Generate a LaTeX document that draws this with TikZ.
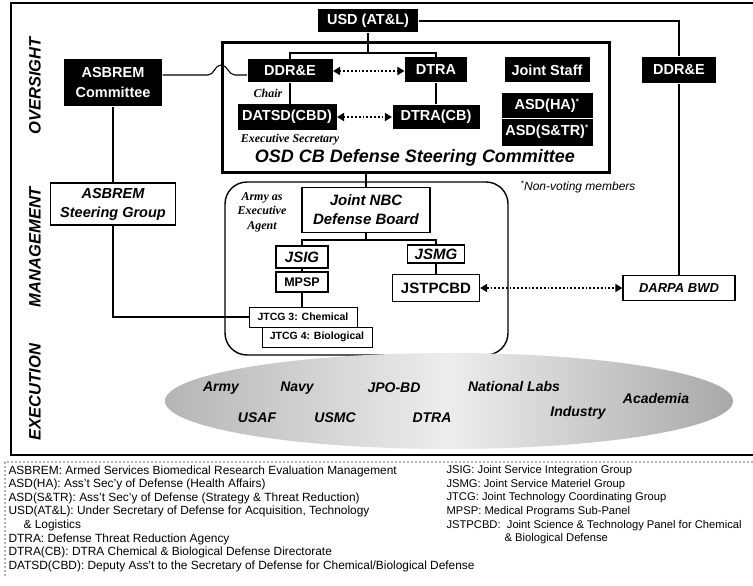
\documentclass[tikz,border=0pt]{standalone}
\usepackage{fontspec}
\setmainfont{Liberation Sans}
\newfontfamily\serifface{Liberation Serif}
\usepackage{tikz}
\usetikzlibrary{positioning,arrows.meta}

\newcommand\sz[2]{\fontsize{#1}{#2}\selectfont}

\begin{document}
\begin{tikzpicture}[x=1pt,y=-1pt,line width=1.1pt,
	blk/.style={fill=black,text=white,font=\sz{14.5}{20}\bfseries,inner sep=0pt,minimum height=25,align=center},
	wbox/.style={draw,line width=1.3pt,fill=white,inner sep=0pt,align=center},
	dotarrow/.style={dotted,line width=1.8pt,{Triangle[length=7pt,width=8pt]}-{Triangle[length=7pt,width=8pt]}},
	side/.style={rotate=90,font=\sz{16.5}{18}\bfseries\itshape},
	rem/.style={font=\serifface\sz{12}{14.5}\bfseries\itshape,align=center,inner sep=0pt},
	exe/.style={font=\sz{14}{16}\bfseries\itshape},
	legend/.style={anchor=north west,align=left,inner sep=0pt,font=\sz{11.9}{13.6}}]
	\path[use as bounding box,clip] (0,0) rectangle (753,586);
	\draw[line width=1.5pt] (760,3) -- (11,3) -- (11,455) -- (760,455);
	\node[side] (over) at (35,86) {OVERSIGHT};
	\node[side] (manage) at (35,247) {MANAGEMENT};
	\node[side] (execu) at (35,392) {EXECUTION};
	\node[blk,minimum width=100,minimum height=23] (usd) at (368,21) {USD (AT\&L)};
	\node[blk,minimum width=98,minimum height=47] (asbcom) at (113,83) {ASBREM\\Committee};
	\node[draw,line width=3pt,minimum width=387,minimum height=129,inner sep=0pt] (osd) at (415.5,107.5) {};
	\node[blk,minimum width=85,minimum height=23] (ddre) at (290,71) {DDR\&E};
	\node[blk,minimum width=62] (dtra) at (436,70) {DTRA};
	\node[blk,minimum width=99] (datsd) at (287,117) {DATSD(CBD)};
	\node[blk,minimum width=87,minimum height=24] (dtracb) at (436,117) {DTRA(CB)};
	\node[blk,minimum width=85] (jstaff) at (547,70) {Joint Staff};
	\node[blk,minimum width=91,minimum height=25] (asdha) at (547,105.5) {ASD(HA)\textsuperscript{\sz{8}{8}*}};
	\node[blk,minimum width=91,minimum height=27] (asdstr) at (547,132) {ASD(S\&TR)\textsuperscript{\sz{8}{8}*}};
	\draw[white,line width=0.6pt] (asdha.south west) -- (asdha.south east);
	\node[blk,minimum width=74,minimum height=26] (ddrer) at (679,70) {DDR\&E};
	\node[rem] (chair) at (268,93) {Chair};
	\node[rem] (execsec) at (290,140) {Executive Secretary};
	\node[font=\sz{18}{20}\bfseries\itshape] (osdname) at (415,158) {OSD CB Defense Steering Committee};
	\node[font=\sz{12}{14}\itshape] (nonvote) at (578,187) {\textsuperscript{*}Non-voting members};
	\node[draw,line width=1.4pt,rounded corners=22,minimum width=283,minimum height=173,inner sep=0pt] (mgmt) at (366.5,268.5) {};
	\node[wbox,font=\sz{14.5}{19}\bfseries\itshape,minimum width=125,minimum height=42] (asbsg) at (113,204) {ASBREM\\Steering Group};
	\node[wbox,font=\sz{15}{19}\bfseries\itshape,minimum width=128,minimum height=45,line width=1.6pt] (jnbc) at (366,210) {Joint NBC\\Defense Board};
	\node[rem] (army) at (262,212) {Army as\\Executive\\Agent};
	\node[wbox,font=\sz{15}{17}\bfseries\itshape,minimum width=52,minimum height=22] (jsig) at (302,257) {JSIG};
	\node[wbox,font=\sz{12.5}{14}\bfseries,minimum width=52,minimum height=20] (mpsp) at (302,282) {MPSP};
	\node[wbox,font=\sz{10.5}{12}\bfseries,minimum width=110,minimum height=20,line width=1pt] (jtcgb) at (317,337) {JTCG 4: Biological};
	\node[wbox,font=\sz{10.5}{12}\bfseries,minimum width=108,minimum height=20,line width=1pt] (jtcgc) at (303,317) {JTCG 3: Chemical};
	\node[wbox,font=\sz{15}{17}\bfseries\itshape,minimum width=57,minimum height=18] (jsmg) at (436,254) {JSMG};
	\node[wbox,font=\sz{15}{17}\bfseries,minimum width=87,minimum height=27] (jstp) at (436,288) {JSTPCBD};
	\node[wbox,font=\sz{13}{15}\bfseries\itshape,minimum width=112,minimum height=25] (darpa) at (679,288) {DARPA BWD};
	\coordinate (bartop) at (368,53);
	\coordinate (barmid) at (366,240);
	\coordinate (hop) at (221,75);
	\draw (usd.south) -- (bartop);
	\draw (ddre.north) |- (bartop) -| (dtra.north);
	\draw (ddre.south) -- (ddre.south |- datsd.north);
	\draw (dtra) -- (dtracb);
	\draw[dotarrow] (ddre.east) -- (ddre.east -| dtra.west);
	\draw[dotarrow] (datsd.east) -- (datsd.east -| dtracb.west);
	\draw (usd.east) -| (ddrer.north);
	\draw (ddrer.south) -- (darpa.north);
	\draw[dotarrow] (jstp.east) -- (jstp.east -| darpa.west);
	\draw (asbcom) -- (asbsg);
	\draw (asbsg.south) |- (jtcgc.west);
	\draw (asbcom.east |- hop) -- ([xshift=-13pt]hop) to[out=0,in=180] ([yshift=10pt]hop) to[out=0,in=180] ([xshift=14pt]hop) -- (ddre.west |- hop);
	\draw (jnbc.north) -- (jnbc.north |- osd.south);
	\draw (jnbc.south) -- (barmid);
	\draw (jsig.north) |- (barmid) -| (jsmg.north);
	\draw (jsig) -- (mpsp);
	\draw (mpsp.south) -- (mpsp.south |- jtcgc.north);
	\draw (jsmg) -- (jstp);
	\shade[left color=gray!58,right color=gray!68,middle color=gray!14] (449,401) ellipse [x radius=284,y radius=48];
	\node[exe] (earmy) at (221,388) {Army};
	\node[exe] (enavy) at (297,388) {Navy};
	\node[exe] (ejpo) at (394,388) {JPO-BD};
	\node[exe] (elabs) at (514,386) {National Labs};
	\node[exe] (eacad) at (656,398) {Academia};
	\node[exe] (eusaf) at (257,418) {USAF};
	\node[exe] (eusmc) at (335,418) {USMC};
	\node[exe] (edtra) at (432,418) {DTRA};
	\node[exe] (eind) at (578,413) {Industry};
	\draw[gray!60,line width=2pt,dotted] (753,462) -- (5,462) -- (5,578);
	\node[legend] (legl) at (8,465) {ASBREM: Armed Services Biomedical Research Evaluation Management\\ASD(HA): Ass't Sec'y of Defense (Health Affairs)\\ASD(S\&TR): Ass't Sec'y of Defense (Strategy \& Threat Reduction)\\USD(AT\&L): Under Secretary of Defense for Acquisition, Technology\\\hspace*{15pt}\& Logistics\\DTRA: Defense Threat Reduction Agency\\DTRA(CB): DTRA Chemical \& Biological Defense Directorate\\DATSD(CBD): Deputy Ass't to the Secretary of Defense for Chemical/Biological Defense};
	\node[legend,font=\sz{11.2}{13.6}] (legr) at (446,465) {JSIG: Joint Service Integration Group\\JSMG: Joint Service Materiel Group\\JTCG: Joint Technology Coordinating Group\\MPSP: Medical Programs Sub-Panel\\JSTPCBD:\ \ Joint Science \& Technology Panel for Chemical\\\hspace*{58pt}\& Biological Defense};
\end{tikzpicture}
\end{document}
